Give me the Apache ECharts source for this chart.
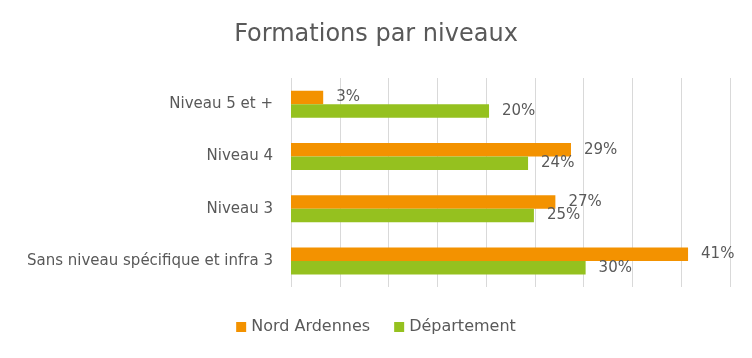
<!DOCTYPE html>
<html>
<head>
<meta charset="utf-8">
<script src="https://cdn.jsdelivr.net/npm/echarts@6/dist/echarts.min.js"></script>
<style>html,body{margin:0;padding:0;background:#fff}#c{width:752px;height:358px}</style>
</head>
<body>
<div id="c"></div>
<script>
const categories = ["Niveau 5 et +", "Niveau 4", "Niveau 3", "Sans niveau spécifique et infra 3"];
const seriesNames = ["Nord Ardennes", "Département"];
const nordArdennes = [3.3, 28.7, 27.1, 40.7];
const departement = [20.3, 24.3, 24.9, 30.2];
const nordLabels = ["3%", "29%", "27%", "41%"];
const deptLabels = ["20%", "24%", "25%", "30%"];

const FONT = "DejaVu Sans";
const TXT = "#595959";
const chart = echarts.init(document.getElementById('c'), null, {renderer: 'canvas'});
function mkSeries(name, data, labels, color) {
  return {
    name: name, type: 'bar', data: data,
    barWidth: 13.5, barGap: '0%',
    itemStyle: {color: color},
    label: {show: true, position: 'right', distance: 13, color: TXT, fontFamily: FONT, fontSize: 15,
      formatter: p => labels[p.dataIndex]},
    emphasis: {disabled: true}
  };
}
chart.setOption({
  animation: false,
  title: {text: "Formations par niveaux", left: 'center', top: 18,
    textStyle: {color: TXT, fontFamily: FONT, fontSize: 24, fontWeight: 'normal'}},
  legend: {bottom: 18, left: 'center', itemWidth: 10, itemHeight: 10, itemGap: 24,
    icon: 'rect',
    textStyle: {color: TXT, fontFamily: FONT, fontSize: 16}, data: seriesNames},
  grid: {left: 291, right: 22, top: 78, bottom: 71, containLabel: false},
  xAxis: {type: 'value', min: 0, max: 45, interval: 5,
    axisLabel: {show: false}, axisLine: {show: false}, axisTick: {show: false},
    splitLine: {show: true, lineStyle: {color: '#d9d9d9', width: 1}}},
  yAxis: {type: 'category', data: categories, inverse: true,
    axisLine: {show: false}, axisTick: {show: false},
    axisLabel: {color: TXT, fontFamily: FONT, fontSize: 15, margin: 18}},
  series: [
    mkSeries(seriesNames[0], nordArdennes, nordLabels, '#F39200'),
    mkSeries(seriesNames[1], departement, deptLabels, '#95C11F')
  ]
});
</script>
</body>
</html>
